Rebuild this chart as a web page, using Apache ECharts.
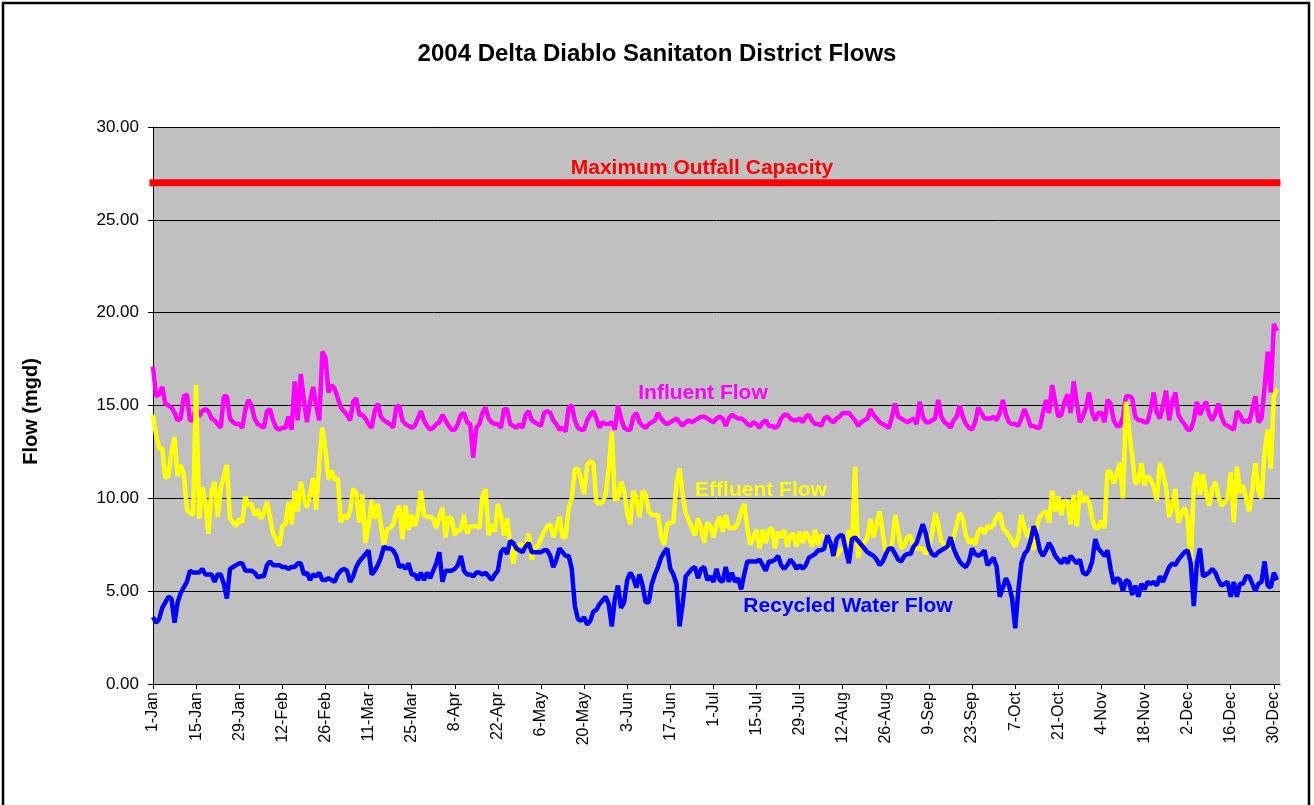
<!DOCTYPE html>
<html>
<head>
<meta charset="utf-8">
<script src="https://cdn.jsdelivr.net/npm/echarts@6/dist/echarts.min.js"></script>
<style>
  html, body { margin: 0; padding: 0; background: #ffffff; }
  #chart { width: 1314px; height: 805px; }
</style>
</head>
<body>
<div id="chart"></div>
<script>
// Daily flows for 2004 (366 days, day 0 = 1-Jan), million gallons per day
const xTickLabels = ['1-Jan','15-Jan','29-Jan','12-Feb','26-Feb','11-Mar','25-Mar','8-Apr','22-Apr','6-May',
  '20-May','3-Jun','17-Jun','1-Jul','15-Jul','29-Jul','12-Aug','26-Aug','9-Sep','23-Sep','7-Oct','21-Oct',
  '4-Nov','18-Nov','2-Dec','16-Dec','30-Dec'];

const influentFlow = [
  17.1,15.5,15.6,16.0,15.1,15.0,14.9,14.6,14.2,14.3,
  15.5,15.6,14.2,14.2,15.0,14.4,14.7,14.8,14.7,14.3,
  14.2,14.0,13.8,15.5,15.5,14.3,14.1,14.0,14.0,13.8,
  14.8,15.3,15.0,14.3,14.0,13.9,13.8,14.7,14.8,14.2,
  13.8,13.7,13.8,13.8,14.4,13.7,16.3,14.2,16.7,15.3,
  14.1,15.2,16.0,15.0,14.2,17.9,17.6,15.7,16.1,15.9,
  15.4,14.9,14.7,14.5,14.2,15.2,15.4,14.5,14.5,14.3,
  14.0,13.8,14.7,15.1,14.4,14.2,14.1,14.0,13.8,14.9,
  15.0,14.2,14.0,13.9,13.8,13.9,14.3,14.7,14.2,13.9,
  13.7,13.8,14.0,14.1,14.5,14.2,13.9,13.7,13.7,14.0,
  14.5,14.6,14.1,14.0,12.2,13.8,14.0,14.6,14.9,14.3,
  14.1,14.0,14.0,13.8,14.8,14.8,14.0,13.9,13.8,14.0,
  13.8,14.5,14.7,14.2,14.1,14.0,13.9,14.6,14.7,14.6,
  14.2,14.0,13.7,13.8,13.6,14.9,15.0,14.2,13.8,13.7,
  13.7,14.2,14.5,14.7,14.3,13.8,14.1,14.0,14.0,14.1,
  13.7,15.0,14.3,13.8,13.7,13.7,14.4,14.6,14.1,13.9,
  13.8,14.0,14.1,14.2,14.6,14.3,14.1,14.0,14.1,14.2,
  14.3,14.1,13.9,14.1,14.2,14.1,14.2,14.3,14.4,14.4,
  14.3,14.2,14.1,14.3,14.4,14.3,13.9,14.3,14.5,14.4,
  14.3,14.3,14.2,14.0,13.9,14.1,14.0,13.8,14.1,14.2,
  13.9,13.9,13.8,13.9,14.3,14.5,14.5,14.3,14.2,14.2,
  14.3,14.1,14.4,14.5,14.2,14.0,14.0,13.9,14.3,14.4,
  14.2,14.1,14.3,14.4,14.6,14.6,14.6,14.4,14.2,13.9,
  14.1,14.2,14.3,14.8,14.5,14.3,14.1,14.0,13.9,13.8,
  14.4,15.1,14.4,14.3,14.2,14.1,14.2,14.3,14.0,15.2,
  14.4,14.1,14.1,14.2,14.3,15.3,14.4,14.1,14.0,13.8,
  14.2,14.4,15.0,14.4,14.0,13.8,13.7,14.1,14.9,14.6,
  14.3,14.3,14.3,14.4,14.2,14.6,15.3,14.5,14.1,14.0,
  14.0,13.9,14.3,14.8,14.4,13.9,13.9,13.8,13.8,14.6,
  15.3,14.6,16.1,15.2,14.4,14.5,15.2,15.6,14.6,16.3,
  15.2,14.1,14.4,14.9,15.7,14.6,14.2,14.6,14.6,14.1,
  15.3,15.1,14.2,13.9,13.9,14.4,15.5,15.5,15.4,14.4,
  14.2,14.2,14.1,14.1,14.8,15.7,14.6,14.3,15.0,15.8,
  14.2,15.2,15.7,14.5,14.2,14.0,13.7,13.7,14.2,15.2,
  14.5,14.9,15.2,14.5,14.2,14.6,15.1,14.4,14.0,13.9,
  13.8,13.7,14.7,14.5,14.1,14.2,14.1,14.8,15.5,14.1,
  14.3,16.0,17.9,15.7,19.4,19.0
];

const effluentFlow = [
  14.5,13.4,12.7,12.7,11.1,11.2,12.5,13.3,11.2,11.8,
  11.3,9.4,9.2,9.1,16.1,8.9,10.6,9.8,8.1,10.4,
  10.9,9.0,10.5,11.2,11.8,8.9,8.7,8.5,8.9,8.7,
  10.1,9.6,9.7,9.1,9.4,8.9,9.2,9.8,9.0,8.1,
  7.8,7.45,8.5,8.6,9.8,8.6,10.4,9.3,10.9,10.0,
  9.5,10.2,11.1,9.4,12.0,13.8,12.6,11.0,11.5,11.0,
  11.1,8.7,9.1,8.9,9.3,10.5,10.3,8.7,10.2,7.6,
  8.5,9.9,8.9,9.7,8.6,7.5,8.3,8.4,8.6,9.2,
  9.6,7.8,9.6,8.3,9.1,8.5,9.1,10.4,9.1,9.0,
  9.0,8.9,8.4,9.0,9.5,7.9,9.0,8.9,8.0,8.3,
  8.3,9.1,8.1,8.5,8.5,8.5,8.4,10.1,10.5,8.0,
  8.6,8.2,9.7,9.1,8.0,8.9,7.6,6.5,7.4,7.5,
  7.5,7.3,8.1,6.7,7.4,7.4,7.8,8.2,8.5,8.6,
  7.9,8.4,9.0,7.9,7.9,9.5,10.0,11.6,11.6,11.0,
  10.2,11.8,12.0,11.9,9.8,9.7,9.8,10.2,11.6,13.6,
  9.9,10.0,10.9,10.4,9.2,8.6,10.4,10.0,9.0,10.4,
  10.2,9.3,9.1,9.1,9.1,8.0,7.5,8.6,8.7,8.7,
  10.8,11.6,10.2,9.2,8.8,8.4,8.0,8.9,8.4,7.6,
  8.7,8.5,7.9,8.6,9.0,8.2,9.1,8.4,8.4,8.4,
  8.7,9.3,9.7,8.4,7.5,7.9,8.3,7.3,8.3,7.6,
  8.3,8.4,7.3,8.2,7.9,8.3,7.4,8.0,8.1,7.4,
  8.2,7.6,8.2,7.9,7.4,8.3,7.5,8.0,7.9,7.8,
  7.3,7.1,6.9,7.2,7.3,7.4,8.3,7.4,11.7,6.8,
  7.6,7.6,7.9,8.9,7.9,8.6,9.3,8.1,7.1,7.3,
  7.5,9.1,8.2,7.3,7.5,7.9,8.0,7.4,7.3,7.3,
  7.3,7.0,7.4,8.1,9.2,8.6,7.7,7.5,7.3,7.4,
  7.9,8.6,9.2,8.9,8.0,7.6,7.8,7.5,8.2,8.4,
  8.1,8.5,8.4,8.6,9.0,9.2,8.4,8.2,8.0,7.7,
  7.4,7.9,9.1,8.4,7.9,8.4,7.2,8.5,9.0,9.2,
  9.3,8.7,10.4,9.3,10.1,9.1,9.9,9.8,8.6,10.2,
  8.5,10.4,9.8,10.1,9.8,8.9,8.4,8.4,8.8,8.4,
  11.5,11.4,10.8,11.3,11.9,10.0,15.2,13.6,12.3,10.8,
  10.9,11.9,10.7,11.2,11.0,10.6,9.9,11.9,11.3,10.6,
  9.0,9.5,10.5,8.7,9.2,9.5,8.9,6.5,10.6,11.4,
  10.2,11.3,10.3,9.6,10.5,10.9,10.1,9.6,9.8,10.0,
  11.4,8.7,11.7,10.3,10.7,10.0,9.3,10.5,11.9,10.4,
  10.0,12.5,13.7,11.6,15.5,15.9
];

const recycledWaterFlow = [
  3.6,3.3,3.5,4.1,4.4,4.7,4.6,3.3,4.4,4.9,
  5.2,5.5,6.1,6.0,6.0,6.0,6.2,5.9,5.9,5.9,
  5.5,5.9,5.9,5.4,4.6,6.2,6.3,6.4,6.5,6.5,
  6.1,6.1,6.1,6.0,5.75,5.8,5.8,6.4,6.6,6.4,
  6.4,6.4,6.3,6.3,6.2,6.3,6.3,6.5,6.5,5.9,
  6.0,5.6,5.9,5.8,6.0,5.6,5.6,5.7,5.6,5.5,
  5.9,6.1,6.2,6.1,5.5,5.8,6.3,6.6,6.8,7.0,
  7.2,5.9,6.1,6.4,6.8,7.4,7.3,7.3,7.2,6.9,
  6.3,6.4,6.2,6.5,5.9,5.9,5.6,6.0,5.6,6.0,
  5.7,6.1,6.5,7.1,5.5,6.1,6.1,6.1,6.2,6.4,
  6.9,6.1,5.9,5.9,5.8,6.0,6.0,5.9,6.0,5.8,
  5.6,5.9,6.1,7.1,7.3,7.0,7.7,7.6,7.3,7.2,
  7.1,7.4,7.6,7.1,7.1,7.1,7.1,7.2,7.2,6.9,
  6.3,6.7,7.3,7.1,6.9,6.9,6.2,4.2,3.5,3.4,
  3.6,3.2,3.4,3.9,4.0,4.3,4.5,4.7,4.3,3.1,
  4.6,5.3,4.1,4.4,5.6,6.0,5.7,5.2,5.9,5.3,
  4.4,4.4,5.4,5.9,6.3,6.8,7.1,7.3,6.2,5.9,
  5.4,3.1,4.3,5.8,6.0,6.2,6.3,5.7,6.2,6.3,
  5.6,5.8,5.5,6.2,5.6,5.5,6.3,5.5,6.0,5.5,
  5.7,5.1,5.9,6.6,6.6,6.6,6.6,6.7,6.4,6.1,
  6.6,6.6,6.7,6.9,6.4,6.2,6.4,6.7,6.5,6.2,
  6.4,6.2,6.4,6.8,6.9,7.0,7.2,7.2,7.3,8.0,
  7.6,6.9,7.8,8.0,8.0,7.2,6.5,7.8,7.9,7.7,
  7.5,7.3,7.1,7.0,6.9,6.7,6.4,6.6,7.0,7.3,
  7.3,7.0,6.7,6.6,6.9,7.0,7.0,7.4,7.6,8.1,
  8.6,8.1,7.3,7.0,6.9,7.1,7.2,7.3,7.4,7.9,
  7.3,6.9,6.6,6.4,6.3,6.6,7.3,7.0,6.9,7.0,
  7.2,6.4,6.6,6.8,6.3,4.7,5.2,5.7,5.3,4.6,
  3.0,5.0,6.5,7.0,7.2,7.7,8.5,8.0,7.2,6.9,
  7.2,7.6,7.3,6.9,6.7,6.5,6.8,6.5,6.9,6.7,
  6.5,6.7,6.0,5.9,6.1,6.6,7.8,7.3,7.1,6.9,
  7.2,6.2,5.4,5.7,5.6,5.0,5.6,5.5,4.8,5.3,
  4.7,5.4,5.1,5.5,5.4,5.5,5.3,5.8,5.5,5.9,
  6.3,6.5,6.4,6.7,6.9,7.1,7.2,6.5,4.2,6.5,
  7.3,5.8,5.9,6.0,6.2,6.0,5.6,5.3,5.4,5.5,
  4.7,5.5,4.7,5.4,5.4,5.8,5.8,5.4,5.0,5.4,
  5.5,6.6,5.3,5.2,6.0,5.6
];

const maxOutfallCapacity = 27;   // mgd

const FONT = '"Liberation Sans", Arial, sans-serif';
const toPairs = arr => arr.map((v, i) => [i, v]);
const lastDay = influentFlow.length - 1;

const chart = echarts.init(document.getElementById('chart'), null, { renderer: 'canvas' });

const seriesLabel = (text, color, x, y) => ({
  type: 'text', silent: true, x, y,
  style: { text, fill: color, font: 'bold 21px ' + FONT, textAlign: 'center', textVerticalAlign: 'middle' }
});

chart.setOption({
  animation: false,
  backgroundColor: '#ffffff',
  title: {
    text: '2004 Delta Diablo Sanitaton District Flows',
    left: 'center',
    top: 37,
    textStyle: { fontFamily: FONT, fontWeight: 'bold', fontSize: 24, color: '#000' }
  },
  grid: {
    left: 153, top: 127, right: 34, bottom: 121,
    show: true, backgroundColor: '#c0c0c0', borderWidth: 0
  },
  xAxis: {
    type: 'value',
    min: 0, max: 366, interval: 14,
    axisLine: { show: true, lineStyle: { color: '#000', width: 1 } },
    axisTick: { show: true, length: 5, lineStyle: { color: '#000' } },
    splitLine: { show: false },
    axisLabel: {
      rotate: 90, margin: 8,
      fontFamily: FONT, fontSize: 16, color: '#000',
      showMaxLabel: false,
      formatter: v => (v % 14 === 0 && xTickLabels[v / 14] !== undefined) ? xTickLabels[v / 14] : ''
    }
  },
  yAxis: {
    type: 'value',
    min: 0, max: 30, interval: 5,
    name: 'Flow (mgd)',
    nameLocation: 'middle',
    nameGap: 112,
    nameTextStyle: { fontFamily: FONT, fontWeight: 'bold', fontSize: 20, color: '#000', padding: [0, 12, 0, 0] },
    axisLine: { show: true, lineStyle: { color: '#000', width: 1 } },
    axisTick: { show: true, length: 5, lineStyle: { color: '#000' } },
    splitLine: { show: true, lineStyle: { color: '#000', width: 1 } },
    axisLabel: {
      margin: 14, fontFamily: FONT, fontSize: 17, color: '#000',
      formatter: v => v.toFixed(2)
    }
  },
  series: [
    {
      name: 'Influent Flow', type: 'line', data: toPairs(influentFlow),
      showSymbol: false, lineStyle: { color: '#ff00ff', width: 4.5 }, z: 2
    },
    {
      name: 'Effluent Flow', type: 'line', data: toPairs(effluentFlow),
      showSymbol: false, lineStyle: { color: '#ffff00', width: 4.5 }, z: 3
    },
    {
      name: 'Recycled Water Flow', type: 'line', data: toPairs(recycledWaterFlow),
      showSymbol: false, lineStyle: { color: '#0000ff', width: 4.5 }, z: 4
    },
    {
      name: 'Maximum Outfall Capacity', type: 'line',
      data: [[0, maxOutfallCapacity], [lastDay, maxOutfallCapacity]],
      showSymbol: false, lineStyle: { color: '#ff0000', width: 7, cap: 'square' }, z: 5
    }
  ],
  graphic: [
    {
      type: 'rect', silent: true,
      shape: { x: 3, y: 3, width: 1306, height: 820 },
      style: { fill: 'none', stroke: '#000', lineWidth: 2.5 }
    },
    seriesLabel('Maximum Outfall Capacity', '#ff0000', 702, 168),
    seriesLabel('Influent Flow', '#ff00ff', 703, 393),
    seriesLabel('Effluent Flow', '#ffff00', 761, 490),
    seriesLabel('Recycled Water Flow', '#0000ff', 848, 606)
  ]
});
</script>
</body>
</html>
